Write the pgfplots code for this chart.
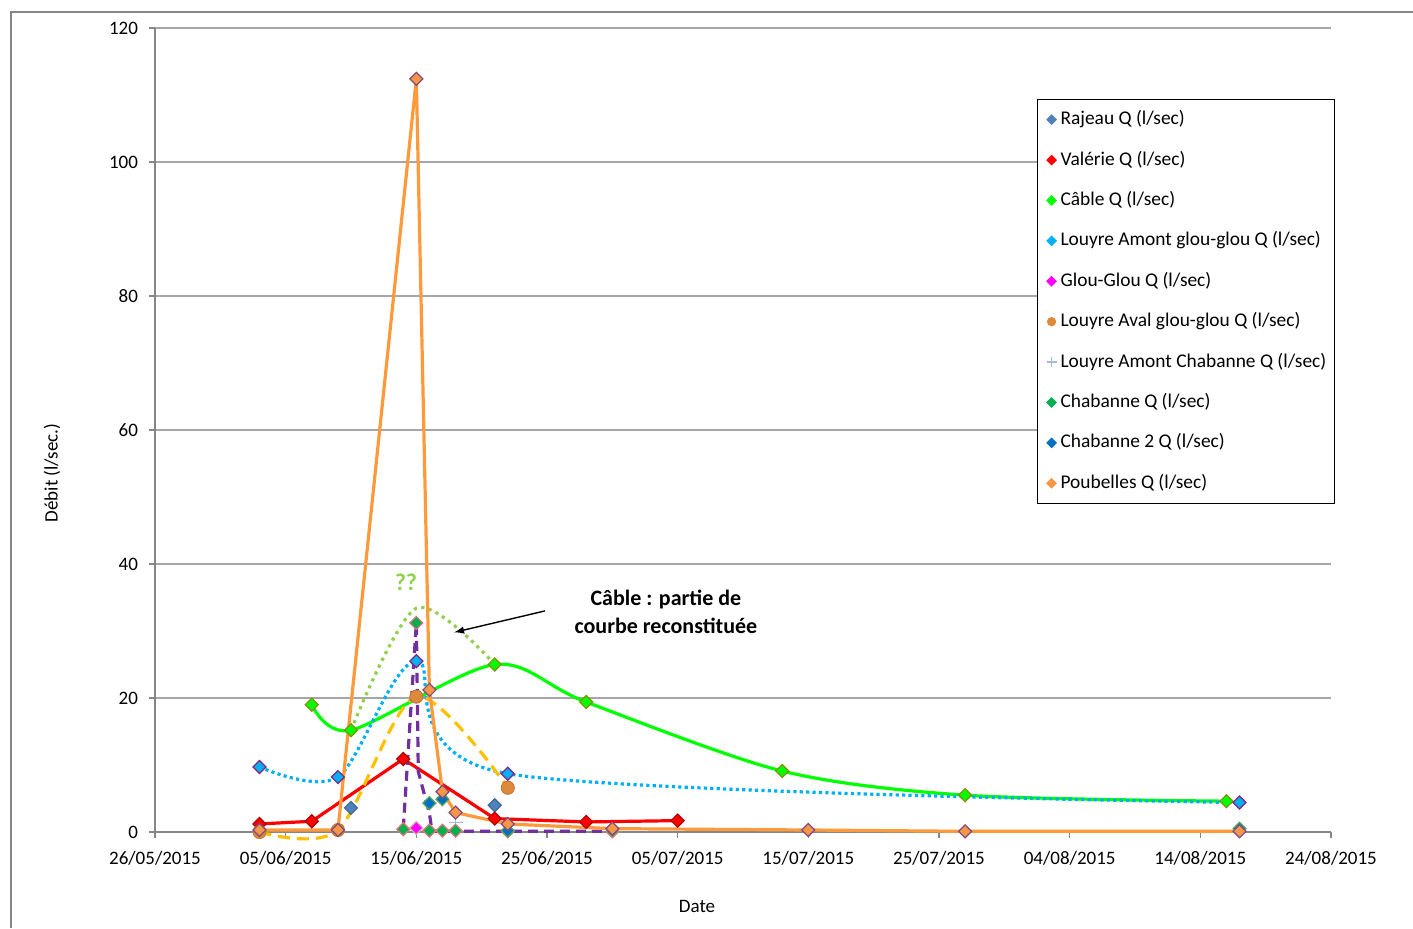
\documentclass[border=0pt]{standalone}
\usepackage{fontspec}
\setmainfont{Carlito}
\usepackage{pgfplots}
\pgfplotsset{compat=1.18}
\definecolor{cRaj}{HTML}{4F81BD}
\definecolor{cVal}{HTML}{FF0000}
\definecolor{cCab}{HTML}{00FF00}
\definecolor{cLAG}{HTML}{00B0F0}
\definecolor{cGG}{HTML}{FF00FF}
\definecolor{cLAv}{HTML}{DD8A3C}
\definecolor{cLAC}{HTML}{A6B8DC}
\definecolor{cCha}{HTML}{00B050}
\definecolor{cCh2}{HTML}{0070C0}
\definecolor{cPou}{HTML}{F79646}
\definecolor{cPouL}{HTML}{FF9A3C}
\definecolor{cYel}{HTML}{FFC000}
\definecolor{cPur}{HTML}{7030A0}
\definecolor{cRec}{HTML}{92D050}
\definecolor{cAxis}{HTML}{868686}
\definecolor{cGrid}{HTML}{A6A6A6}
\pgfplotsset{
  dmk/.style n args={2}{mark=square*, mark size=2.3pt, mark options={rotate=45, fill=#1, draw=#2, line width=0.6pt, solid}},
  lmk/.style={only marks, mark=square*, mark size=1.6pt, mark options={rotate=45, fill=#1, draw=#1, solid}},
}
\begin{document}
\begin{tikzpicture}
\path[use as bounding box] (0,0) rectangle (706.5pt,464pt);
\draw[cAxis, line width=0.6pt] (5.5pt,0) -- (5.5pt,458pt) -- (706.5pt,458pt);
\begin{axis}[
  at={(77.5pt,48pt)}, anchor=south west,
  scale only axis, width=588pt, height=402pt,
  xmin=0, xmax=90, ymin=0, ymax=120,
  xtick={0,10,...,90},
  xticklabels={26/05/2015,05/06/2015,15/06/2015,25/06/2015,05/07/2015,15/07/2015,25/07/2015,04/08/2015,14/08/2015,24/08/2015},
  ytick={0,20,...,120},
  /pgf/number format/assume math mode=true,
  axis x line*=bottom, axis y line*=left,
  axis line style={draw=cAxis, line width=0.6pt, -},
  ymajorgrids, grid style={cGrid, line width=0.6pt},
  tick align=outside, major tick length=3pt,
  tick style={draw=cAxis, line width=0.6pt},
  ticklabel style={font=\fontsize{9.5}{11}\selectfont},
  xticklabel style={yshift=-3pt},
  yticklabel style={xshift=-2pt},
  clip=false,
  legend style={at={(axis description cs:0.75,0.9116)}, anchor=north west,
    draw=black, line width=0.6pt, font=\fontsize{9.7}{11}\selectfont,
    inner xsep=4.5pt, inner ysep=5.5pt, row sep=11.2pt,
    nodes={inner ysep=0pt, text height=7pt, text depth=2pt},
    cells={anchor=west}},
  legend image code/.code={\draw[#1] plot coordinates {(0pt,0pt)};},
]
\addlegendimage{lmk=cRaj}\addlegendentry{Rajeau Q (l/sec)}
\addlegendimage{lmk=cVal}\addlegendentry{Valérie Q (l/sec)}
\addlegendimage{lmk=cCab}\addlegendentry{Câble Q (l/sec)}
\addlegendimage{lmk=cLAG}\addlegendentry{Louyre Amont glou-glou Q (l/sec)}
\addlegendimage{lmk=cGG}\addlegendentry{Glou-Glou Q (l/sec)}
\addlegendimage{only marks, mark=*, mark size=2pt, mark options={fill=cLAv, draw=cLAv}}\addlegendentry{Louyre Aval glou-glou Q (l/sec)}
\addlegendimage{only marks, mark=+, mark size=2.5pt, mark options={draw=cLAC}}\addlegendentry{Louyre Amont Chabanne Q (l/sec)\kern-2.5pt}
\addlegendimage{lmk=cCha}\addlegendentry{Chabanne Q (l/sec)}
\addlegendimage{lmk=cCh2}\addlegendentry{Chabanne 2 Q (l/sec)}
\addlegendimage{lmk=cPou}\addlegendentry{Poubelles Q (l/sec)}

% reconstructed part of Cable (dotted)
\addplot[forget plot, smooth, cRec, line width=1.6pt, dash pattern=on 1.6pt off 2.2pt] coordinates {(15,15.2) (20,33.4) (26,25)};
% Rajeau
\addplot[forget plot, only marks, dmk={cRaj}{cRaj!80!black}] coordinates {(15,3.6) (26,4.0)};
% Valerie
\addplot[forget plot, cVal, line width=1.6pt, dmk={cVal}{cVal!70!black}] coordinates {(8,1.2) (12,1.6) (19,10.9) (26,2.0) (33,1.5) (40,1.7)};
% Cable
\addplot[forget plot, smooth, cCab, line width=1.6pt, dmk={cCab}{olive!80!green}] coordinates {(12,19.0) (15,15.2) (26,25.0) (33,19.4) (48,9.1) (62,5.5) (82,4.6)};
% Louyre Amont glou-glou
\addplot[forget plot, smooth, cLAG, line width=1.6pt, dash pattern=on 1.6pt off 1.6pt, dmk={cLAG}{violet!70!gray}] coordinates {(8,9.7) (14,8.2) (20,25.5) (27,8.7) (83,4.4)};
% Glou-Glou
\addplot[forget plot, only marks, dmk={cGG}{pink!70!gray}] coordinates {(20,0.6)};
% Louyre Aval glou-glou (yellow dashed line, circle markers)
\addplot[forget plot, smooth, cYel, line width=1.6pt, dash pattern=on 6pt off 3.5pt] coordinates {(8,0) (14,0.3) (20,20.2) (27,6.6)};
\addplot[forget plot, only marks, mark=*, mark size=3.3pt, mark options={fill=cLAv, draw=cLAv!85!black}] coordinates {(8,0) (14,0.3) (20,20.2) (27,6.6)};
% Louyre Amont Chabanne
\addplot[forget plot, only marks, mark=+, mark size=3.5pt, mark options={draw=cLAC, line width=0.8pt}] coordinates {(23,1.4)};
% purple dashed line
\addplot[forget plot, cPur, line width=1.6pt, dash pattern=on 5pt off 3pt] coordinates {(19,0.5) (20,31.2) (20.15,9) (21,2.8) (21.2,0.1) (35,0.1)};
% Chabanne
\addplot[forget plot, only marks, dmk={cCha}{red!40!pink!80!gray}] coordinates {(19,0.4) (20,31.2) (21,0.2) (22,0.2) (23,0.2) (27,0.1) (35,0.1)};
% Chabanne 2
\addplot[forget plot, only marks, dmk={cCh2}{green!30!gray}] coordinates {(21,4.3) (22,4.9) (27,0.2) (83,0.5)};
% Poubelles
\addplot[forget plot, cPouL, line width=1.6pt, dmk={cPou}{violet!40!gray}] coordinates {(8,0.3) (14,0.3) (20,112.4) (21,21.2) (22,6.0) (23,2.9) (27,1.2) (35,0.5) (50,0.3) (62,0.1) (83,0.1)};

% annotations
\node[text=cRec, font=\fontsize{12}{14}\selectfont\bfseries] at (axis cs:19.2,37.3) {??};
\draw[-latex, black, line width=0.7pt] (axis cs:29.85,33.0) -- (axis cs:22.9,29.8);
\node[align=center, font=\fontsize{11}{14}\selectfont\bfseries] at (axis cs:39.1,32.8) {Câble : partie de\\courbe reconstituée};
\end{axis}
\node[font=\fontsize{9.5}{11}\selectfont] at (348.5pt,11pt) {Date};
\node[font=\fontsize{9.5}{11}\selectfont, rotate=90] at (26pt,227.5pt) {Débit (l/sec.)};
\end{tikzpicture}
\end{document}
